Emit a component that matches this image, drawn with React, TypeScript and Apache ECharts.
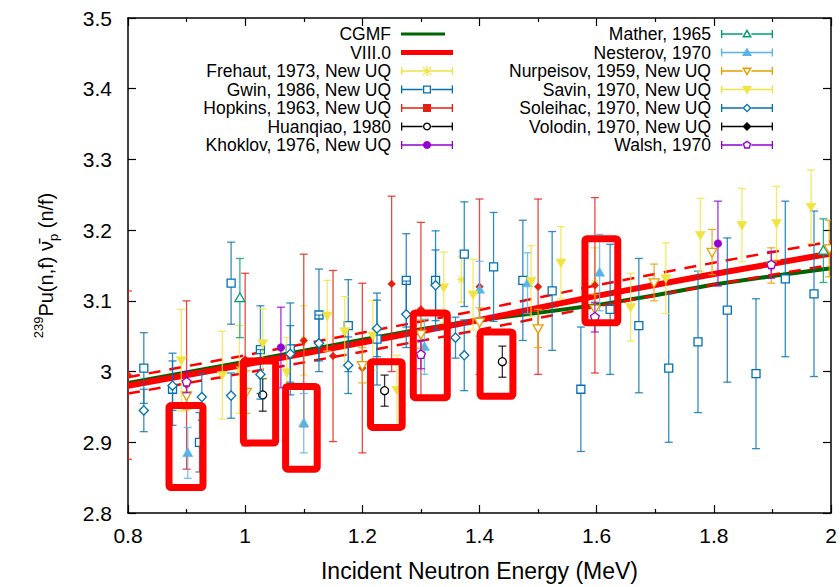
import React, { useEffect, useRef } from "react";
import * as echarts from "echarts";

const FONT = "'Liberation Sans', Arial, Helvetica, sans-serif";

// [incident energy (MeV), nu-bar (n/f), uncertainty]
const frehaut = [[0.99, 3.003, 0.062], [1.10, 3.044, 0.049], [1.369, 3.130, 0.032], [1.597, 3.125, 0.05]];
const gwin = [
  [0.827, 3.005, 0.05], [0.876, 2.975, 0.051], [0.922, 2.900, 0.042], [0.976, 3.125, 0.058],
  [1.026, 3.031, 0.062], [1.077, 3.032, 0.065], [1.126, 3.080, 0.065], [1.176, 3.065, 0.065],
  [1.225, 3.046, 0.065], [1.275, 3.129, 0.066], [1.325, 3.129, 0.07], [1.374, 3.166, 0.074],
  [1.424, 3.148, 0.077], [1.474, 3.129, 0.085], [1.524, 3.114, 0.084], [1.573, 2.975, 0.088],
  [1.623, 3.088, 0.092], [1.672, 3.065, 0.095], [1.723, 3.005, 0.105], [1.773, 3.042, 0.1],
  [1.823, 3.087, 0.102], [1.872, 2.997, 0.106], [1.922, 3.131, 0.11], [1.971, 3.110, 0.117],
];
const hopkins = [
  [0.8, 2.995, 0.119], [0.90, 2.981, 0.119], [1.0, 3.017, 0.122], [1.10, 3.044, 0.122],
  [1.15, 3.022, 0.121], [1.20, 3.005, 0.12], [1.25, 3.124, 0.124], [1.30, 3.088, 0.123],
  [1.40, 3.120, 0.124], [1.50, 3.120, 0.124], [1.597, 3.122, 0.124],
];
const huanqiao = [[1.03, 2.967, 0.023], [1.238, 2.973, 0.022], [1.439, 3.014, 0.022]];
const khoklov = [[1.061, 3.034, 0.057], [1.807, 3.181, 0.06]];
const mather = [[0.991, 3.104, 0.056], [1.987, 3.171, 0.045]];
const nesterov = [
  [0.902, 2.885, 0.036], [1.10, 2.927, 0.042], [1.306, 3.035, 0.039],
  [1.40, 3.116, 0.04], [1.482, 3.125, 0.043], [1.605, 3.140, 0.054],
];
const nurpeisov = [
  [0.90, 2.966, 0.02], [1.002, 2.971, 0.03], [1.20, 3.009, 0.025], [1.30, 3.053, 0.02],
  [1.40, 3.070, 0.02], [1.50, 3.061, 0.027], [1.597, 3.089, 0.02], [1.698, 3.126, 0.026],
  [1.797, 3.169, 0.032], [1.898, 3.150, 0.025], [1.997, 3.174, 0.04],
];
const savin = [
  [0.891, 3.016, 0.072], [0.961, 2.995, 0.062], [1.03, 3.040, 0.049], [1.071, 2.999, 0.049],
  [1.14, 3.079, 0.05], [1.17, 3.057, 0.049], [1.218, 3.051, 0.049], [1.259, 2.974, 0.049],
  [1.339, 3.119, 0.05], [1.389, 3.109, 0.05], [1.488, 3.128, 0.05], [1.539, 3.154, 0.051],
  [1.658, 3.091, 0.048], [1.718, 3.132, 0.05], [1.777, 3.193, 0.052], [1.848, 3.207, 0.052],
  [1.907, 3.210, 0.052], [1.966, 3.233, 0.052],
];
const soleihac = [
  [0.827, 2.945, 0.03], [0.876, 2.980, 0.035], [0.926, 2.964, 0.033], [0.976, 2.966, 0.032],
  [1.026, 2.996, 0.035], [1.077, 3.025, 0.04], [1.126, 3.040, 0.04], [1.176, 3.009, 0.04],
  [1.225, 3.061, 0.04], [1.275, 3.081, 0.047], [1.325, 3.122, 0.05], [1.359, 3.048, 0.029],
  [1.374, 3.023, 0.05],
];
const volodin: number[][] = [];
const walsh = [[0.90, 2.985, 0.015], [1.30, 3.024, 0.02], [1.597, 3.077, 0.021], [1.898, 3.151, 0.019]];

// evaluations
const modelEnergy = [0.8, 1.0, 1.2, 1.4, 1.6, 1.8, 2.0];
const viii = [2.980, 3.010, 3.041, 3.073, 3.107, 3.138, 3.167];
const viiiUpper = [2.992, 3.023, 3.055, 3.087, 3.122, 3.154, 3.184];
const viiiLower = [2.969, 2.998, 3.028, 3.059, 3.092, 3.123, 3.151];
const cgmfEnergy = [0.8, 1.0, 1.2, 1.3, 1.4, 1.5, 1.6, 1.7, 1.8, 1.9, 2.0];
const cgmf = [2.984, 3.014, 3.045, 3.060, 3.073, 3.083, 3.094, 3.108, 3.123, 3.135, 3.146];

// highlighted regions [xMin, xMax, yMin, yMax]
const highlightBoxes = [
  [0.870, 0.928, 2.836, 2.952], [0.997, 1.052, 2.899, 3.015], [1.069, 1.123, 2.862, 2.979],
  [1.214, 1.268, 2.921, 3.014], [1.287, 1.345, 2.963, 3.083], [1.401, 1.457, 2.965, 3.056],
  [1.580, 1.636, 3.069, 3.188],
];

const legendCol1 = ["CGMF", "VIII.0", "Frehaut, 1973, New UQ", "Gwin, 1986, New UQ", "Hopkins, 1963, New UQ", "Huanqiao, 1980", "Khoklov, 1976, New UQ"];
const legendCol2 = ["Mather, 1965", "Nesterov, 1970", "Nurpeisov, 1959, New UQ", "Savin, 1970, New UQ", "Soleihac, 1970, New UQ", "Volodin, 1970, New UQ", "Walsh, 1970"];

type Pt = [number, number];
type DS = { name: string; color: string; marker: string; filled: boolean; plotMarker?: string; data: number[][] };

const datasets: DS[] = [
  { name: "Frehaut, 1973, New UQ", color: "#F0E442", marker: "star", filled: true, data: frehaut },
  { name: "Gwin, 1986, New UQ", color: "#0072B2", marker: "square", filled: false, data: gwin },
  { name: "Hopkins, 1963, New UQ", color: "#E51E10", marker: "square", filled: true, plotMarker: "diamondSmall", data: hopkins },
  { name: "Huanqiao, 1980", color: "#000000", marker: "circle", filled: false, data: huanqiao },
  { name: "Khoklov, 1976, New UQ", color: "#9400D3", marker: "circle", filled: true, data: khoklov },
  { name: "Mather, 1965", color: "#009E73", marker: "tri", filled: false, data: mather },
  { name: "Nesterov, 1970", color: "#56B4E9", marker: "tri", filled: true, data: nesterov },
  { name: "Nurpeisov, 1959, New UQ", color: "#E69F00", marker: "tridown", filled: false, data: nurpeisov },
  { name: "Savin, 1970, New UQ", color: "#F0E442", marker: "tridown", filled: true, data: savin },
  { name: "Soleihac, 1970, New UQ", color: "#0072B2", marker: "diamond", filled: false, data: soleihac },
  { name: "Volodin, 1970, New UQ", color: "#000000", marker: "diamond", filled: true, data: volodin },
  { name: "Walsh, 1970", color: "#9400D3", marker: "pentagon", filled: false, data: walsh },
];

function shapePts(kind: string, cx: number, cy: number): Pt[] {
  const reg = (r: number, n: number, start: number): Pt[] => {
    const p: Pt[] = [];
    for (let i = 0; i < n; i++) {
      const a = start + (i * 2 * Math.PI) / n;
      p.push([cx + r * Math.cos(a), cy + r * Math.sin(a)]);
    }
    return p;
  };
  switch (kind) {
    case "square": return [[cx - 4, cy - 4], [cx + 4, cy - 4], [cx + 4, cy + 4], [cx - 4, cy + 4]];
    case "circle": return reg(4, 24, 0);
    case "tri": return [[cx, cy - 5], [cx + 5, cy + 3.6], [cx - 5, cy + 3.6]];
    case "tridown": return [[cx, cy + 5], [cx - 5, cy - 3.6], [cx + 5, cy - 3.6]];
    case "diamond": return [[cx, cy - 4.6], [cx + 4.6, cy], [cx, cy + 4.6], [cx - 4.6, cy]];
    case "diamondSmall": return [[cx, cy - 3.8], [cx + 3.8, cy], [cx, cy + 3.8], [cx - 3.8, cy]];
    case "pentagon": return reg(4.6, 5, -Math.PI / 2);
    default: return reg(4, 4, 0);
  }
}

function signedArea(p: Pt[]) {
  let s = 0;
  for (let i = 0; i < p.length; i++) {
    const a = p[i], b = p[(i + 1) % p.length];
    s += a[0] * b[1] - b[0] * a[1];
  }
  return s;
}
function polyPath(p: Pt[], cw: boolean) {
  const q = (signedArea(p) > 0) === cw ? p : p.slice().reverse();
  return "M" + q.map((v) => v[0].toFixed(2) + "," + v[1].toFixed(2)).join("L") + "Z";
}
function rectPts(x: number, y: number, w: number, h: number): Pt[] {
  return [[x, y], [x + w, y], [x + w, y + h], [x, y + h]];
}
function thickLine(x1: number, y1: number, x2: number, y2: number, t: number): Pt[] {
  const dx = x2 - x1, dy = y2 - y1, L = Math.hypot(dx, dy);
  const nx = (-dy / L) * t / 2, ny = (dx / L) * t / 2;
  return [[x1 + nx, y1 + ny], [x2 + nx, y2 + ny], [x2 - nx, y2 - ny], [x1 - nx, y1 - ny]];
}
function shrink(p: Pt[], k: number): Pt[] {
  const cx = p.reduce((s, v) => s + v[0], 0) / p.length;
  const cy = p.reduce((s, v) => s + v[1], 0) / p.length;
  return p.map((v) => [cx + (v[0] - cx) * k, cy + (v[1] - cy) * k] as Pt);
}
const shrinkK: Record<string, number> = { square: 0.68, circle: 0.66, tri: 0.48, tridown: 0.48, diamond: 0.58, pentagon: 0.62 };

const IW = 57, IH = 12, ICX = 31, ICY = 6;
const anchors = `M0,0L0.01,0ZM${IW},${IH}L${IW - 0.01},${IH}Z`;

function errorIcon(kind: string, filled: boolean) {
  const t = 1.3;
  let d = anchors;
  d += polyPath(rectPts(5, 2, t, 8), true) + polyPath(rectPts(IW - t, 2, t, 8), true);
  const gap = filled || kind === "star" ? 0 : 4.4;
  if (gap === 0) d += polyPath(rectPts(5, ICY - t / 2, IW - 5, t), true);
  else
    d += polyPath(rectPts(5, ICY - t / 2, ICX - gap - 5, t), true) +
      polyPath(rectPts(ICX + gap, ICY - t / 2, IW - ICX - gap, t), true);
  if (kind === "star") {
    const r = 4.2;
    d += polyPath(thickLine(ICX - r, ICY - r, ICX + r, ICY + r, 1.2), true);
    d += polyPath(thickLine(ICX + r, ICY - r, ICX - r, ICY + r, 1.2), true);
    d += polyPath(rectPts(ICX - 0.6, ICY - 5, 1.2, 10), true);
  } else {
    const outer = shapePts(kind, ICX, ICY);
    d += polyPath(outer, true);
    if (!filled) d += polyPath(shrink(outer, shrinkK[kind] || 0.6), false);
  }
  return "path://" + d;
}
function lineIcon(width: number, thick: number) {
  return "path://" + anchors + polyPath(rectPts(5, ICY - thick / 2, width, thick), true);
}

function markerEl(kind: string, filled: boolean, x: number, y: number, color: string): any {
  const style = filled
    ? { fill: color, stroke: color, lineWidth: 0.6 }
    : { fill: "#ffffff", stroke: color, lineWidth: 1.3 };
  if (kind === "star") {
    const r = 4;
    const st = { stroke: color, lineWidth: 1.2 };
    return {
      type: "group",
      children: [
        { type: "line", shape: { x1: x - r, y1: y, x2: x + r, y2: y }, style: st },
        { type: "line", shape: { x1: x, y1: y - r, x2: x, y2: y + r }, style: st },
        { type: "line", shape: { x1: x - r * 0.75, y1: y - r * 0.75, x2: x + r * 0.75, y2: y + r * 0.75 }, style: st },
        { type: "line", shape: { x1: x + r * 0.75, y1: y - r * 0.75, x2: x - r * 0.75, y2: y + r * 0.75 }, style: st },
      ],
    };
  }
  if (kind === "square") {
    return { type: "rect", shape: { x: x - 4, y: y - 4, width: 8, height: 8 }, style };
  }
  if (kind === "circle") {
    return { type: "circle", shape: { cx: x, cy: y, r: filled ? 3.8 : 4 }, style };
  }
  return { type: "polygon", shape: { points: shapePts(kind, x, y) }, style };
}

function makeRender(ds: DS) {
  const kind = ds.plotMarker || ds.marker;
  return (params: any, api: any) => {
    const x = api.value(0), y = api.value(1), e = api.value(2);
    const c = api.coord([x, y]);
    const t = api.coord([x, y + e]);
    const b = api.coord([x, y - e]);
    const cap = 4;
    const bar = { stroke: ds.color, lineWidth: 1.3, opacity: 0.8 };
    return {
      type: "group",
      children: [
        { type: "line", shape: { x1: c[0], y1: t[1], x2: c[0], y2: b[1] }, style: bar },
        { type: "line", shape: { x1: c[0] - cap, y1: t[1], x2: c[0] + cap, y2: t[1] }, style: bar },
        { type: "line", shape: { x1: c[0] - cap, y1: b[1], x2: c[0] + cap, y2: b[1] }, style: bar },
        markerEl(kind, ds.filled, c[0], c[1], ds.color),
      ],
    };
  };
}

function legendItem(name: string) {
  if (name === "CGMF") return { name, icon: lineIcon(44, 3.2), itemStyle: { color: "#006400", borderWidth: 0 } };
  if (name === "VIII.0") return { name, icon: lineIcon(52, 5), itemStyle: { color: "#FF0000", borderWidth: 0 } };
  const ds = datasets.find((d) => d.name === name)!;
  return { name, icon: errorIcon(ds.marker, ds.filled), itemStyle: { color: ds.color, borderWidth: 0, opacity: 1 } };
}

export default function App() {
  const ref = useRef<HTMLDivElement>(null);
  useEffect(() => {
    if (!ref.current) return;
    const chart = echarts.init(ref.current, undefined, { renderer: "svg" });
    const axisLine = { show: true, onZero: false, lineStyle: { color: "#000", width: 1.5 } };
    const tick = { show: true, inside: true, length: 8, lineStyle: { color: "#000", width: 1.2 } };
    const minor = { show: true, splitNumber: 2, length: 4, lineStyle: { color: "#000", width: 1.2 } };
    const labelStyle = { fontSize: 21, color: "#000", fontFamily: FONT };
    const legendText = { fontSize: 17.5, color: "#000", fontFamily: FONT };
    const legendCommon = {
      orient: "vertical", align: "right", top: 25, itemWidth: IW, itemHeight: IH, itemGap: 0.5,
      padding: 0, selectedMode: false, textStyle: legendText,
    };
    const line = (name: string, xs: number[], ys: number[], color: string, width: number, type: any, z: number) => ({
      type: "line", name, data: xs.map((e, i) => [e, ys[i]]), showSymbol: false, symbol: "none",
      lineStyle: { color, width, type }, itemStyle: { color }, z, silent: true, clip: true,
    });
    const option: any = {
      animation: false,
      backgroundColor: "#ffffff",
      grid: { left: 128, right: 9, top: 18, bottom: 70, containLabel: false },
      legend: [
        { ...legendCommon, right: 840 - 453, data: legendCol1.map(legendItem) },
        { ...legendCommon, right: 840 - 773, data: legendCol2.map(legendItem) },
      ],
      xAxis: [
        {
          type: "value", min: 0.8, max: 2.0, interval: 0.2, position: "bottom",
          axisLine, axisTick: tick, minorTick: minor, splitLine: { show: false },
          axisLabel: { ...labelStyle, margin: 12 },
          name: "Incident Neutron Energy (MeV)", nameLocation: "middle", nameGap: 46,
          nameTextStyle: { fontSize: 23, color: "#000", fontFamily: FONT },
        },
        {
          type: "value", min: 0.8, max: 2.0, interval: 0.2, position: "top",
          axisLine, axisTick: tick, minorTick: minor, splitLine: { show: false }, axisLabel: { show: false },
        },
      ],
      yAxis: [
        {
          type: "value", min: 2.8, max: 3.5, interval: 0.1, position: "left",
          axisLine, axisTick: tick, splitLine: { show: false },
          axisLabel: { ...labelStyle, margin: 16 },
          name: "{sup|239}Pu(n,f) \u03BD\u0304{sub|p} (n/f)", nameLocation: "middle", nameGap: 68, nameRotate: 90,
          nameTextStyle: {
            fontSize: 20, color: "#000", fontFamily: FONT, lineHeight: 28,
            rich: {
              sup: { fontSize: 13, lineHeight: 13, verticalAlign: "top", fontFamily: FONT, color: "#000" },
              sub: { fontSize: 13, lineHeight: 13, verticalAlign: "bottom", fontFamily: FONT, color: "#000" },
            },
          },
        },
        {
          type: "value", min: 2.8, max: 3.5, interval: 0.1, position: "right",
          axisLine, axisTick: tick, splitLine: { show: false }, axisLabel: { show: false },
        },
      ],
      series: [
        line("CGMF", cgmfEnergy, cgmf, "#006400", 4, "solid", 2),
        line("VIII.0 upper", modelEnergy, viiiUpper, "#FF0000", 2.5, [12, 9], 2),
        line("VIII.0 lower", modelEnergy, viiiLower, "#FF0000", 2.5, [12, 9], 2),
        line("VIII.0", modelEnergy, viii, "#FF0000", 6, "solid", 2),
        ...datasets.map((ds) => ({
          type: "custom", name: ds.name, data: ds.data, encode: { x: 0, y: 1 },
          renderItem: makeRender(ds), itemStyle: { color: ds.color }, z: 3, clip: true, silent: true,
        })),
        {
          type: "custom", name: "highlight", data: highlightBoxes, encode: { x: [0, 1], y: [2, 3] },
          z: 5, silent: true, clip: false,
          renderItem: (params: any, api: any) => {
            const a = api.coord([api.value(0), api.value(3)]);
            const b = api.coord([api.value(1), api.value(2)]);
            return {
              type: "rect",
              shape: { x: a[0], y: a[1], width: b[0] - a[0], height: b[1] - a[1], r: 2 },
              style: { fill: "none", stroke: "#FF0000", lineWidth: 7 },
            };
          },
        },
      ],
    };
    chart.setOption(option);
    return () => chart.dispose();
  }, []);
  return (
    <div
      ref={ref}
      style={{ position: "fixed", left: 0, top: 0, width: 840, height: 587, background: "#fff" }}
    />
  );
}
